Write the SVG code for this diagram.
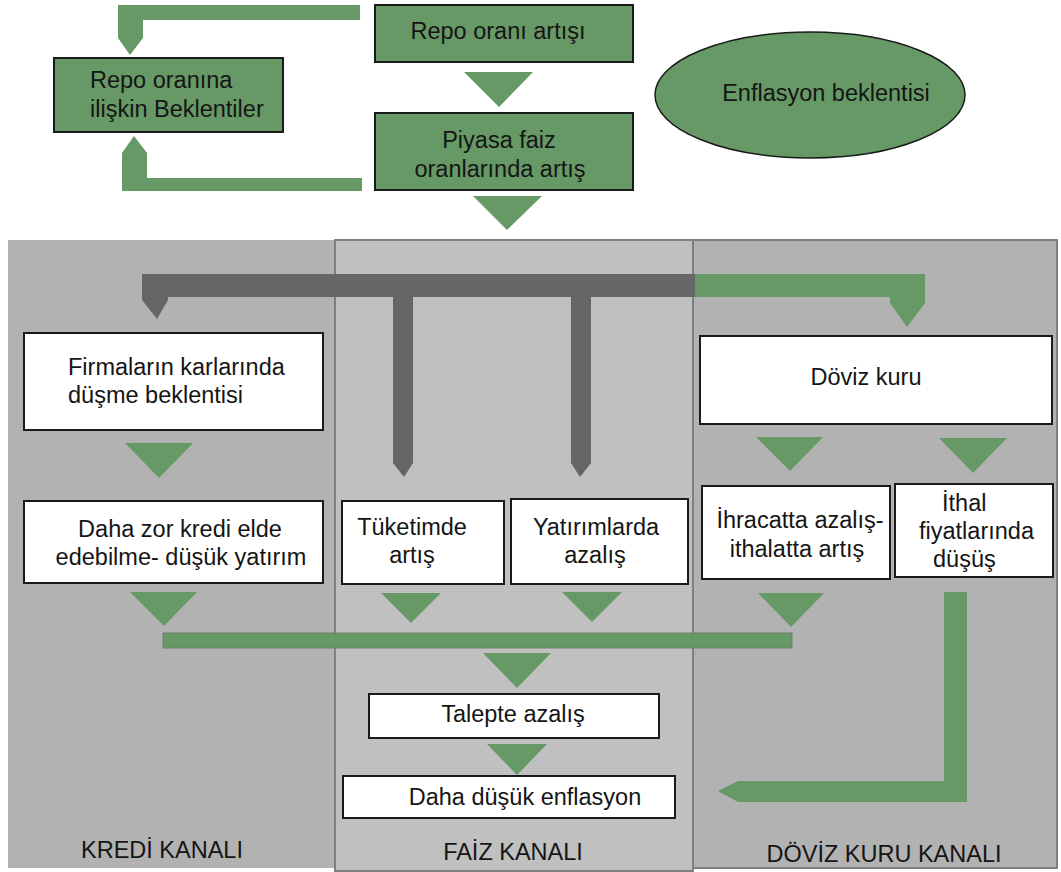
<svg xmlns="http://www.w3.org/2000/svg" width="1061" height="872" viewBox="0 0 1061 872">
<style>
text{font-family:"Liberation Sans",Arial,sans-serif;font-size:23.5px;fill:#151515}
.m{text-anchor:middle}
.gbox{fill:#669966;stroke:#1a1a1a;stroke-width:2}
.wbox{fill:#ffffff;stroke:#1a1a1a;stroke-width:2}
.g{fill:#669966}
.d{fill:#666666}
.panel{stroke:#7f7f7f;stroke-width:2}
</style>
<rect width="1061" height="872" fill="#ffffff"/>
<g id="panels">
  <rect id="panel-kredi" x="8" y="240" width="327" height="628" fill="#b2b2b2"/>
  <rect id="panel-doviz" class="panel" x="693" y="240" width="364" height="628" fill="#b2b2b2"/>
  <rect id="panel-faiz" class="panel" x="335" y="240" width="358" height="631" fill="#c0c0c0"/>
</g>
<g id="connectors">
  <polygon class="g" points="360,5 118,5 118,38 130,55 143,38 143,20 360,20"/>
  <polygon class="g" points="362,178 147,178 147,153 134,136 122,153 122,191 362,191"/>
  <polygon class="g" points="464,72 533,72 499,107"/>
  <polygon class="g" points="473,196 542,196 507,230"/>
  <polygon class="d" points="695,274 142,274 142,300 157,319 168,300 168,297 393,297 393,463 404,477 413,463 413,297 571,297 571,463 580,477 591,463 591,297 695,297"/>
  <polygon class="g" points="695,274 925,274 925,303 907,327 890,303 890,297 695,297"/>
  <polygon class="g" points="125,443 193,443 159,478"/>
  <polygon class="g" points="756,437 823,437 790,471"/>
  <polygon class="g" points="939,438 1007,438 973,473"/>
  <polygon class="g" points="130,592 197,592 164,626"/>
  <polygon class="g" points="381,593 441,593 411,623"/>
  <polygon class="g" points="562,592 622,592 592,622"/>
  <polygon class="g" points="758,593 824,593 791,627"/>
  <rect x="163" y="633" width="629" height="15" fill="#669966" stroke="#6f7f6f" stroke-width="1"/>
  <polygon class="g" points="483,653 551,653 517,688"/>
  <polygon class="g" points="487,744 547,744 517,775"/>
  <polygon class="g" points="944,592 967,592 967,802 738,802 718,791 738,781 944,781"/>
</g>
<g id="node-repo-artis">
  <rect class="gbox" x="375" y="5" width="258" height="57"/>
  <text class="m" x="498" y="39">Repo oranı artışı</text>
</g>
<g id="node-piyasa">
  <rect class="gbox" x="375" y="113" width="258" height="77"/>
  <text class="m" x="499" y="148">Piyasa faiz</text>
  <text class="m" x="500" y="177">oranlarında artış</text>
</g>
<g id="node-beklenti">
  <rect class="gbox" x="54" y="58" width="229" height="74"/>
  <text x="90" y="88">Repo oranına</text>
  <text x="90" y="117">ilişkin Beklentiler</text>
</g>
<g id="node-enflasyon-beklentisi">
  <ellipse cx="810" cy="95" rx="155" ry="63" fill="#669966" stroke="#1a1a1a" stroke-width="1.5"/>
  <text class="m" x="826" y="101">Enflasyon beklentisi</text>
</g>
<g id="node-firma">
  <rect class="wbox" x="24" y="333" width="299" height="97"/>
  <text x="68" y="375">Firmaların karlarında</text>
  <text x="68" y="403">düşme beklentisi</text>
</g>
<g id="node-kredi">
  <rect class="wbox" x="24" y="501" width="299" height="82"/>
  <text class="m" x="180" y="537">Daha zor kredi elde</text>
  <text class="m" x="181" y="565">edebilme- düşük yatırım</text>
</g>
<g id="node-tuketim">
  <rect class="wbox" x="342" y="501" width="162" height="83"/>
  <text class="m" x="412" y="535">Tüketimde</text>
  <text class="m" x="412" y="563">artış</text>
</g>
<g id="node-yatirim">
  <rect class="wbox" x="511" y="499" width="177" height="85"/>
  <text class="m" x="596" y="535">Yatırımlarda</text>
  <text class="m" x="595" y="563">azalış</text>
</g>
<g id="node-doviz">
  <rect class="wbox" x="700" y="336" width="352" height="88"/>
  <text class="m" x="866" y="385">Döviz kuru</text>
</g>
<g id="node-ihracat">
  <rect class="wbox" x="702" y="486" width="188" height="93"/>
  <text class="m" x="800" y="528">İhracatta azalış-</text>
  <text class="m" x="797" y="557">ithalatta artış</text>
</g>
<g id="node-ithal">
  <rect class="wbox" x="895" y="484" width="158" height="93"/>
  <text x="942" y="511">İthal</text>
  <text x="919" y="539">fiyatlarında</text>
  <text x="933" y="567">düşüş</text>
</g>
<g id="node-talep">
  <rect class="wbox" x="369" y="694" width="290" height="44"/>
  <text class="m" x="513" y="722">Talepte azalış</text>
</g>
<g id="node-enflasyon">
  <rect class="wbox" x="343" y="776" width="332" height="42"/>
  <text class="m" x="525" y="805">Daha düşük enflasyon</text>
</g>
<g id="labels">
  <text class="m" x="162" y="858">KREDİ KANALI</text>
  <text class="m" x="513" y="860">FAİZ KANALI</text>
  <text class="m" x="884" y="862">DÖVİZ KURU KANALI</text>
</g>
</svg>
